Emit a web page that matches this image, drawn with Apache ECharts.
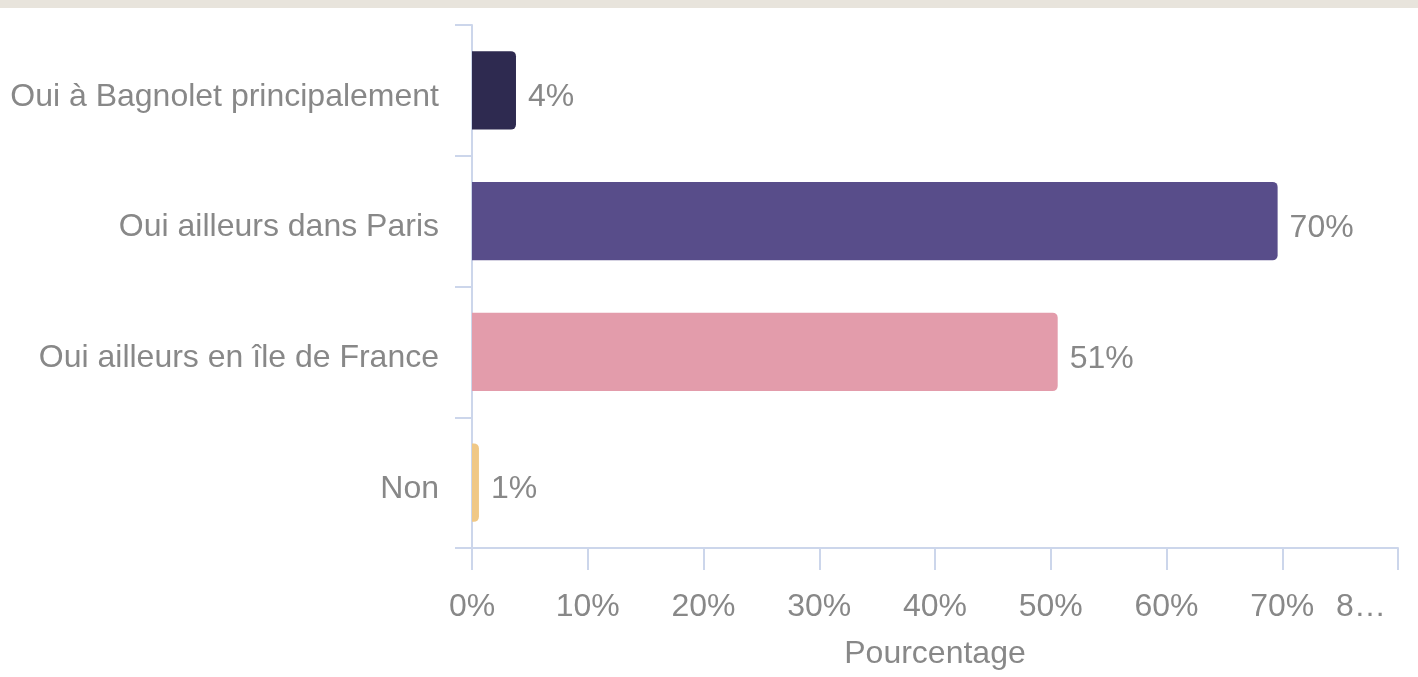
<!DOCTYPE html>
<html>
<head>
<meta charset="utf-8">
<script src="https://cdn.jsdelivr.net/npm/echarts@6/dist/echarts.min.js"></script>
<style>
  html, body { margin: 0; padding: 0; background: #fff; }
  .band { height: 8px; background: #e8e4dc; }
  #chart { position: absolute; left: 0; top: 0; width: 1418px; height: 677px; }
</style>
</head>
<body>
<div class="band"></div>
<div id="chart"></div>
<script>
const categories = ['Oui à Bagnolet principalement', 'Oui ailleurs dans Paris', 'Oui ailleurs en île de France', 'Non']
const values = [3.8, 69.6, 50.6, 0.6]
const colors = ['#2e2a50', '#584d8a', '#e39cab', '#f0c886']
const xTicks = [0, 10, 20, 30, 40, 50, 60, 70, 80]

const font = '"Liberation Sans", Arial, sans-serif'
const fontSize = 32
const grey = '#888888'
const axisColor = '#ccd6eb'

const chart = echarts.init(document.getElementById('chart'))
chart.setOption({
  animation: false,
  grid: {
    left: 472,
    right: 20,
    top: 25,
    bottom: 129
  },
  xAxis: {
    type: 'value',
    min: xTicks[0],
    max: xTicks[xTicks.length - 1],
    interval: 10,
    name: 'Pourcentage',
    nameLocation: 'middle',
    nameGap: 90,
    nameTextStyle: { fontFamily: font, fontSize: fontSize, color: grey },
    splitLine: { show: false },
    axisLine: { show: true, lineStyle: { color: axisColor, width: 2 } },
    axisTick: { show: true, length: 22, lineStyle: { color: axisColor, width: 2 } },
    axisLabel: {
      margin: 43,
      fontFamily: font,
      fontSize: fontSize,
      color: grey,
      formatter: function (v) {
        // last label is clipped in the original
        return v === xTicks[xTicks.length - 1] ? '{last|' + String(v).charAt(0) + '…}' : v + '%'
      },
      rich: {
        last: { fontFamily: font, fontSize: fontSize, color: grey, padding: [0, 74, 0, 0] }
      }
    }
  },
  yAxis: {
    type: 'category',
    data: categories,
    inverse: true,
    axisLine: { show: true, lineStyle: { color: axisColor, width: 2 } },
    axisTick: { show: true, length: 17, lineStyle: { color: axisColor, width: 2 } },
    axisLabel: {
      margin: 33,
      formatter: v => '{c|' + v + '}',
      rich: {
        c: { fontFamily: font, fontSize: fontSize, color: grey, padding: [13, 0, 0, 0] }
      }
    }
  },
  series: [
    {
      type: 'bar',
      barWidth: '60%',
      data: values.map((v, i) => ({
        value: v,
        itemStyle: { color: colors[i], borderRadius: [0, 5, 5, 0] }
      })),
      label: {
        show: true,
        position: 'right',
        distance: 12,
        offset: [0, 7],
        fontFamily: font,
        fontSize: fontSize,
        color: grey,
        formatter: p => Math.round(p.value) + '%'
      }
    }
  ]
})
</script>
</body>
</html>
